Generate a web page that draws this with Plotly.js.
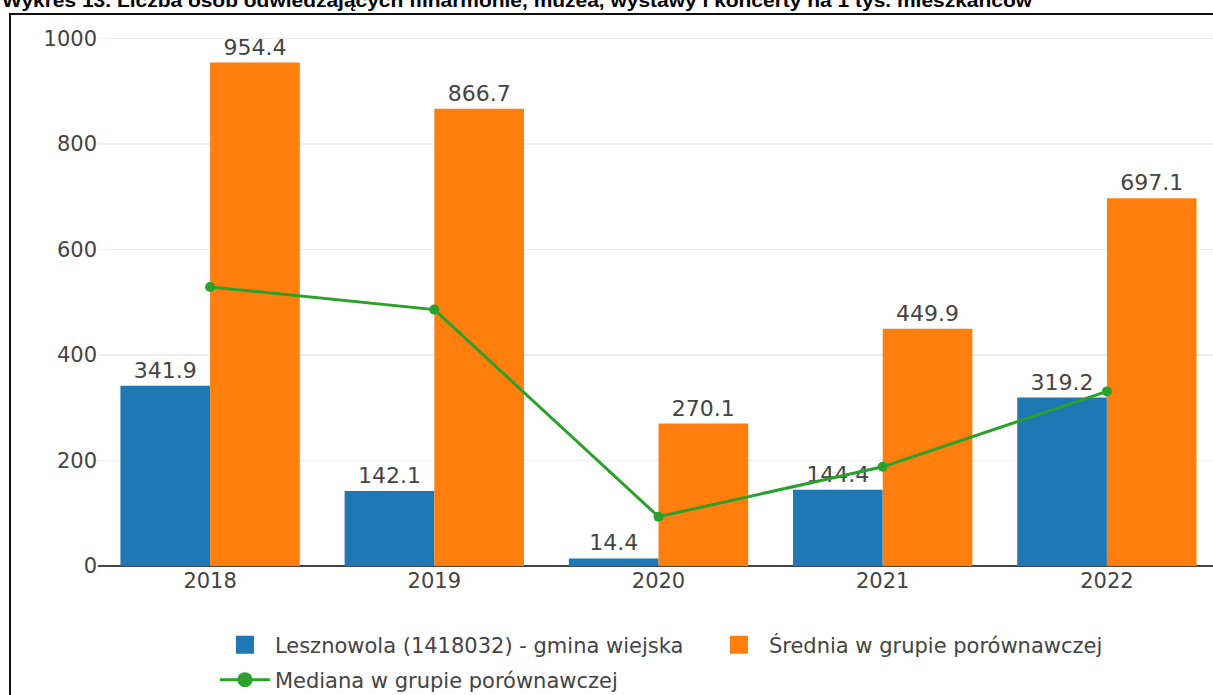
<!DOCTYPE html>
<html>
<head>
<meta charset="utf-8">
<script src="https://cdn.plot.ly/plotly-3.0.1.min.js"></script>
<style>
  html, body { margin: 0; padding: 0; width: 1213px; height: 695px; overflow: hidden; background: #fff; }
  #title { position: absolute; left: 2px; top: -9px; white-space: nowrap; font-family: "Liberation Sans", Arial, sans-serif; font-weight: bold; font-size: 18px; color: #000; transform-origin: 0 0; }
  #frame { position: absolute; left: 9px; top: 13px; width: 1400px; height: 900px; border-left: 2px solid #111; border-top: 2px solid #111; pointer-events: none; z-index: 5; }
  #chart { position: absolute; left: 0; top: 0; width: 1240px; height: 740px; }
</style>
</head>
<body>
<div id="title">Wykres 13. Liczba osób odwiedzających filharmonie, muzea, wystawy i koncerty na 1 tys. mieszkańców</div>
<div id="frame"></div>
<div id="chart"></div>
<script>
const years = ["2018", "2019", "2020", "2021", "2022"];
const gminaName = "Lesznowola (1418032) - gmina wiejska";
const gminaValues = [341.9, 142.1, 14.4, 144.4, 319.2];
const sredniaName = "Średnia w grupie porównawczej";
const sredniaValues = [954.4, 866.7, 270.1, 449.9, 697.1];
const medianaName = "Mediana w grupie porównawczej";
const medianaValues = [529, 486, 93.5, 188, 331];
const yTicks = [0, 200, 400, 600, 800, 1000];

// fit title width
(function(){
  const t = document.getElementById('title');
  const w = t.getBoundingClientRect().width;
  const target = 1030;
  t.style.transform = 'scaleX(' + (target / w) + ')';
})();

const fontFam = '"DejaVu Sans", Verdana, sans-serif';
const txtColor = '#444';

const traces = [
  {
    type: 'bar', name: gminaName, x: years, y: gminaValues,
    marker: { color: '#1f77b4' },
    text: gminaValues.map(v => v.toFixed(1)), textposition: 'outside',
    textfont: { family: fontFam, size: 22, color: txtColor },
    cliponaxis: false, legend: 'legend'
  },
  {
    type: 'bar', name: sredniaName, x: years, y: sredniaValues,
    marker: { color: '#ff7f0e' },
    text: sredniaValues.map(v => v.toFixed(1)), textposition: 'outside',
    textfont: { family: fontFam, size: 22, color: txtColor },
    cliponaxis: false, legend: 'legend'
  },
  {
    type: 'scatter', mode: 'lines+markers', name: medianaName, x: years, y: medianaValues,
    line: { color: '#2ca02c', width: 3 },
    marker: { color: '#2ca02c', size: 10 },
    legend: 'legend2'
  }
];

const legendFont = { family: fontFam, size: 21, color: txtColor };

const layout = {
  width: 1240, height: 740,
  margin: { l: 98, r: 20.5, t: 30, b: 174 },
  paper_bgcolor: 'rgba(0,0,0,0)', plot_bgcolor: '#fff',
  font: { family: fontFam, size: 21, color: txtColor },
  barmode: 'group', bargap: 0.2, bargroupgap: 0,
  showlegend: true,
  legend: {
    orientation: 'h', x: 0.1043, xanchor: 'left', y: -0.1474, yanchor: 'middle',
    font: legendFont, itemwidth: 50, entrywidth: 429, entrywidthmode: 'pixels',
    traceorder: 'normal', bgcolor: 'rgba(0,0,0,0)'
  },
  legend2: {
    orientation: 'h', x: 0.1043, xanchor: 'left', y: -0.2127, yanchor: 'middle',
    font: legendFont, itemwidth: 50,
    traceorder: 'normal', bgcolor: 'rgba(0,0,0,0)'
  },
  xaxis: {
    type: 'category', showgrid: false, ticks: '', automargin: false,
    tickfont: { family: fontFam, size: 21, color: txtColor }
  },
  yaxis: {
    range: [0, 1016], tickvals: yTicks, ticktext: yTicks.map(String),
    showgrid: true, gridcolor: '#eee', gridwidth: 1.5,
    zeroline: true, zerolinecolor: '#444', zerolinewidth: 2,
    ticks: '', automargin: false,
    tickfont: { family: fontFam, size: 21, color: txtColor }
  }
};

Plotly.newPlot('chart', traces, layout, { staticPlot: true, displayModeBar: false }).then(function(gd){
  // enlarge legend symbols to match the reference's scale
  gd.querySelectorAll('.legendpoints').forEach(function(g){
    const bb = g.getBBox();
    const cx = bb.x + bb.width / 2, cy = bb.y + bb.height / 2;
    g.setAttribute('transform', 'translate(' + cx + ',' + cy + ') scale(1.5) translate(' + (-cx) + ',' + (-cy) + ')');
  });
});
</script>
</body>
</html>
